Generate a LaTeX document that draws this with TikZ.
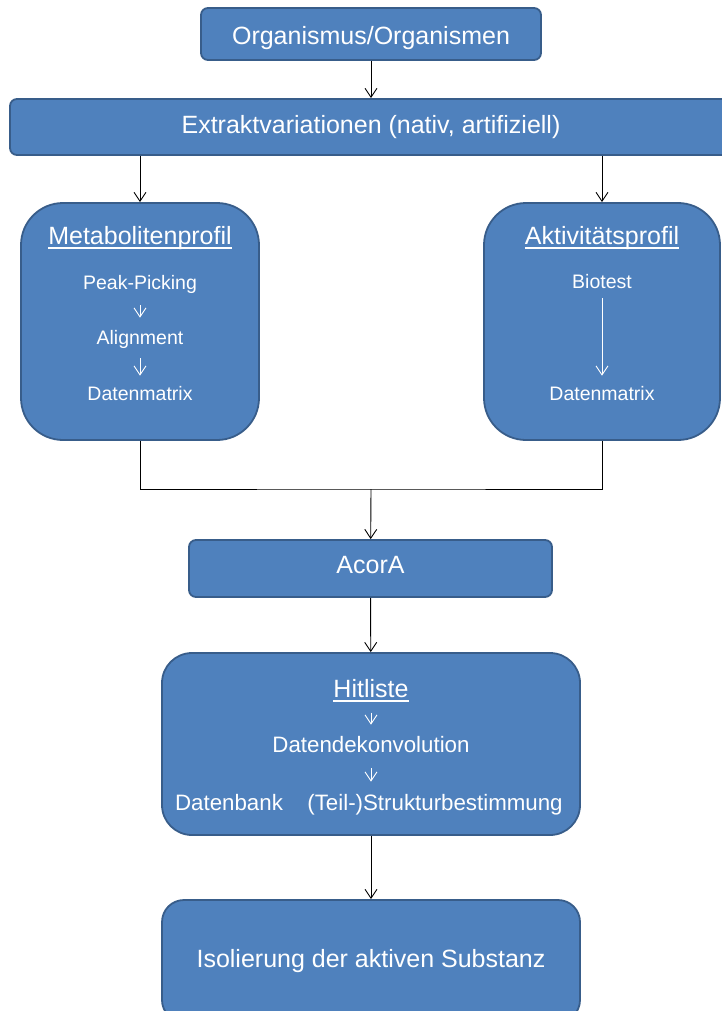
\documentclass[tikz,border=0pt]{standalone}
\usepackage{fontspec}
\setmainfont{Liberation Sans}
\usetikzlibrary{positioning,arrows.meta}
\definecolor{acorblue}{RGB}{79,129,189}
\definecolor{acoredge}{RGB}{56,93,138}
\newcommand\titleul[1]{\setbox0\hbox{#1}\dp0=0pt\vtop{\box0\kern2.9pt\hrule height1.6pt}}

\tikzset{
  box/.style={draw=acoredge, line width=1.8pt, fill=acorblue, text=white,
    font=\fontsize{25}{30}\selectfont, inner sep=0pt, text height=18pt, text depth=5pt},
  boxtitle/.style={text=white, inner sep=0pt, anchor=base, font=\fontsize{25}{30}\selectfont},
  stepitem/.style={text=white, inner sep=0pt, anchor=base, font=\fontsize{19.5}{23}\selectfont},
  hititem/.style={stepitem, font=\fontsize{22.3}{26}\selectfont},
  flow/.style={-{Straight Barb[length=9pt,width=12pt]}, line width=0.9pt},
  subflow/.style={flow, white},
}

\begin{document}
\begin{tikzpicture}[x=1pt,y=-1pt]
\useasboundingbox (0,0) rectangle (721,1011);

\node[box, minimum width=340, minimum height=52, rounded corners=7pt,
  text height=22pt, text depth=0pt] (org) at (371,34) {Organismus/Organismen};
\node[box, minimum width=722, minimum height=56, rounded corners=7pt] (ext) at (371,127)
  {Extraktvariationen (nativ, artifiziell)};
\node[box, minimum width=238, minimum height=237, rounded corners=42pt] (metab) at (140,321.5) {};
\node[box, minimum width=236, minimum height=237, rounded corners=42pt] (aktiv) at (602,321.5) {};
\node[box, minimum width=363, minimum height=57, rounded corners=7pt, text depth=9pt] (acor) at (370.5,568.5) {AcorA};
\node[box, minimum width=418, minimum height=182, rounded corners=30pt] (hit) at (371,744) {};
\node[box, minimum width=418, minimum height=122, rounded corners=22pt] (iso) at (371,961)
  {Isolierung der aktiven Substanz};

\node[boxtitle] (mtitle) at (140,244) {\titleul{Metabolitenprofil}};
\node[stepitem] (peak) at (140,289) {Peak-Picking};
\node[stepitem] (align) at (140,344) {Alignment};
\node[stepitem] (mmatrix) at (140,400) {Datenmatrix};

\node[boxtitle] (atitle) at (602,244) {\titleul{Aktivitätsprofil}};
\node[stepitem] (bio) at (602,288) {Biotest};
\node[stepitem] (amatrix) at (602,400) {Datenmatrix};

\node[boxtitle] (htitle) at (371,697) {\titleul{Hitliste}};
\node[hititem] (dekon) at (371,752) {Datendekonvolution};
\node[hititem] (dbank) at (229,810) {Datenbank};
\node[hititem] (struct) at (435,810) {(Teil-)Strukturbestimmung};

\coordinate (join) at (371,489);

\draw[flow] (org) -- (ext);
\draw[flow] (ext.south -| metab.north) -- (metab.north);
\draw[flow] (ext.south -| aktiv.north) -- (aktiv.north);
\draw[line width=0.9pt] (metab.south) |- (join) -| (aktiv.south);
\draw[flow] (join) -- (acor);
\draw[flow] (acor) -- (hit);
\draw[flow] (hit) -- (iso);

\draw[subflow, shorten <=12pt, shorten >=12pt] (peak) -- (align);
\draw[subflow, shorten <=10pt, shorten >=10pt] (align) -- (mmatrix);
\draw[subflow, shorten <=10pt, shorten >=10pt] (bio) -- (amatrix);
\draw[subflow, shorten <=11pt, shorten >=11pt] (htitle) -- (dekon);
\draw[subflow, shorten <=16pt, shorten >=12pt] (dekon.south) -- (dekon.south |- struct.north);
\end{tikzpicture}
\end{document}
